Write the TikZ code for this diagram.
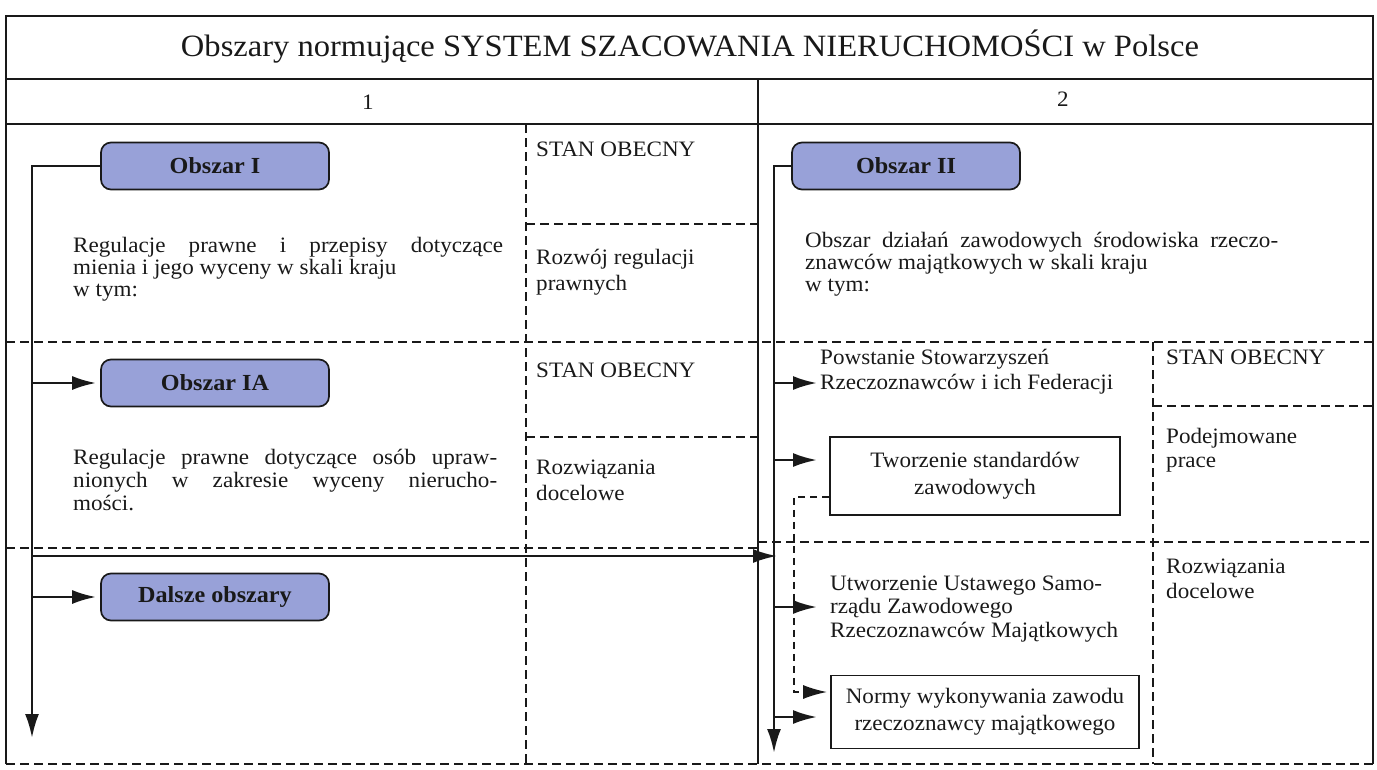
\documentclass[tikz,border=0pt]{standalone}
\usepackage{fontspec}
\setmainfont{Liberation Serif}[FakeStretch=1.05]
\usetikzlibrary{arrows.meta}
\definecolor{ink}{RGB}{25,25,25}
\definecolor{boxfill}{RGB}{152,161,216}
\newcommand\myBody{\fontsize{22}{22}\selectfont}
\tikzset{
  frame/.style={draw=ink, line width=1.8pt},
  dline/.style={draw=ink, line width=1.5pt, dash pattern=on 9pt off 5pt},
  arr/.style={draw=ink, line width=2.6pt, -{Latex[length=24pt,width=14pt]}},
  darr/.style={draw=ink, line width=1.9pt, dash pattern=on 7pt off 5pt, -{Latex[length=24pt,width=14pt]}},
  areabox/.style={draw=ink, line width=1.7pt, fill=boxfill, rounded corners=10pt,
    minimum width=228pt, minimum height=47pt, inner sep=0pt,
    font=\fontsize{23}{26}\selectfont\bfseries, text=ink},
  stdbox/.style={draw=ink, line width=1.7pt, align=center, inner sep=0pt,
    font=\fontsize{22}{27}\selectfont, text=ink},
  line/.style={font=\myBody, text=ink, inner sep=0pt, anchor=base west},
  ctext/.style={font=\myBody, text=ink, inner sep=0pt},
  title/.style={font=\fontsize{31}{34}\selectfont, text=ink, inner sep=0pt}
}
\begin{document}
\begin{tikzpicture}[x=1pt,y=-1pt]
\useasboundingbox (0,0) rectangle (1377,769);
% table frame
\draw[frame] (6,764) -- (6,16) -- (1373,16) -- (1373,764);
\draw[dline] (6,764) -- (1373,764);
\draw[frame] (6,79) -- (1373,79);
\draw[frame] (6,124) -- (1373,124);
\draw[frame] (758,79) -- (758,764);
% dashed grid
\draw[dline] (526,124) -- (526,764);
\draw[dline] (1153,342) -- (1153,764);
\draw[dline] (6,342) -- (1373,342);
\draw[dline] (6,548) -- (758,548);
\draw[dline] (758,542) -- (1373,542);
\draw[dline] (526,224) -- (758,224);
\draw[dline] (526,437) -- (758,437);
\draw[dline] (1153,406) -- (1373,406);
% headers
\node[title] (title) at (690,47) {Obszary normujące SYSTEM SZACOWANIA NIERUCHOMOŚCI w Polsce};
\node[ctext] (h1) at (368,102) {1};
\node[ctext] (h2) at (1063,99) {2};
% left column
\node[areabox] (o1) at (215,166) {Obszar I};
\node[areabox] (o1a) at (215,383) {Obszar IA};
\node[areabox] (o1d) at (215,597) {Dalsze obszary};
\node[line] (s1) at (536,156) {STAN OBECNY};
\node[line] (r1a) at (536,264) {Rozwój regulacji};
\node[line] (r1b) at (536,290) {prawnych};
\node[line] (p1a) at (73,252) {\makebox[430pt][s]{Regulacje prawne i przepisy dotyczące}};
\node[line] (p1b) at (73,274) {mienia i jego wyceny w skali kraju};
\node[line] (p1c) at (73,296) {w tym:};
\node[line] (s2) at (536,377) {STAN OBECNY};
\node[line] (r2a) at (536,474) {Rozwiązania};
\node[line] (r2b) at (536,500) {docelowe};
\node[line] (p2a) at (73,464) {\makebox[424pt][s]{Regulacje prawne dotyczące osób upraw-}};
\node[line] (p2b) at (73,487) {\makebox[424pt][s]{nionych w zakresie wyceny nierucho-}};
\node[line] (p2c) at (73,510) {mości.};
% right column
\node[areabox] (o2) at (906,166) {Obszar II};
\node[line] (q1a) at (805,247) {\makebox[473pt][s]{Obszar działań zawodowych środowiska rzeczo-}};
\node[line] (q1b) at (805,269) {znawców majątkowych w skali kraju};
\node[line] (q1c) at (805,291) {w tym:};
\node[line] (s3) at (1166,364) {STAN OBECNY};
\node[line] (r3a) at (1166,443) {Podejmowane};
\node[line] (r3b) at (1166,467) {prace};
\node[line] (r4a) at (1166,573) {Rozwiązania};
\node[line] (r4b) at (1166,598) {docelowe};
\node[line] (w1a) at (820,364) {Powstanie Stowarzyszeń};
\node[line] (w1b) at (820,389) {Rzeczoznawców i ich Federacji};
\node[stdbox, minimum width=290pt, minimum height=78pt] (tw) at (975,476) {Tworzenie standardów\\zawodowych};
\node[line] (u1a) at (830,590) {Utworzenie Ustawego Samo-};
\node[line] (u1b) at (830,613) {rządu Zawodowego};
\node[line] (u1c) at (830,637) {Rzeczoznawców Majątkowych};
\node[stdbox, minimum width=308pt, minimum height=73pt] (nb) at (985,712) {Normy wykonywania zawodu\\rzeczoznawcy majątkowego};
% left connectors
\coordinate (lvEnd) at (32,738);
\draw[arr] (o1.west) -| (lvEnd);
\coordinate (b1) at (32,383);
\draw[arr] (b1) -- ([xshift=-4pt]o1a.west);
\coordinate (b2) at (32,556);
\coordinate (e2) at (777,556);
\draw[arr] (b2) -- (e2);
\coordinate (b3) at (32,597);
\draw[arr] (b3) -- ([xshift=-4pt]o1d.west);
% right connectors
\coordinate (rvEnd) at (774,753);
\draw[arr] (o2.west) -| (rvEnd);
\coordinate (c1) at (774,383);
\coordinate (c1e) at (817,383);
\draw[arr] (c1) -- (c1e);
\coordinate (c2) at (774,460);
\coordinate (c2e) at (817,460);
\draw[arr] (c2) -- (c2e);
\coordinate (c3) at (774,607);
\coordinate (c3e) at (817,607);
\draw[arr] (c3) -- (c3e);
\coordinate (c4) at (774,717);
\coordinate (c4e) at (817,717);
\draw[arr] (c4) -- (c4e);
\path (tw.west) ++(0,21) coordinate (d0);
\coordinate (d1) at (794,497);
\coordinate (d2) at (794,692);
\coordinate (d3) at (nb.west |- d2);
\draw[darr] (d0) -- (d1) -- (d2) -- ([xshift=-3pt]d3);
\end{tikzpicture}
\end{document}
